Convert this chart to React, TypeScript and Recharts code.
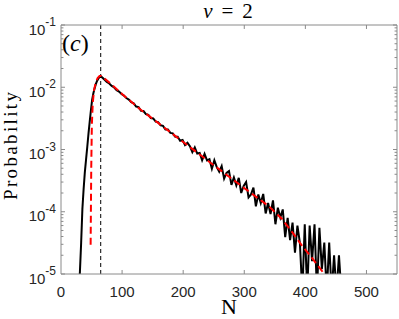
import { ComposedChart, Line, XAxis, YAxis, ReferenceLine } from "recharts";

// histogram of N (black)
const histN = [
  29, 31, 33, 35, 37, 39, 41, 43, 45, 47, 49, 51, 53, 55, 57, 59, 61, 63, 65, 67,
  71, 75, 79, 83, 87, 91, 95, 99, 103, 107, 111, 115, 119, 123, 127, 131, 135, 139,
  143, 147, 151, 155, 159, 163, 167, 171, 175, 179, 183, 187, 191, 195, 199, 203,
  207, 211, 215, 219, 223, 227, 231, 235, 239, 243, 247, 251, 255, 259, 263, 267,
  271, 275, 279, 283, 287, 291, 295, 299, 303, 307, 311, 315, 319, 323, 327, 331,
  335, 339, 343, 347, 351, 355, 359, 363, 367, 371, 375, 379, 383, 387, 391, 395,
  399, 403, 407, 411, 415, 419, 423, 427, 431, 435, 439, 443, 447, 451, 455, 459,
];
const histP = [
  5e-6, 1.1e-5, 3.2e-5, 1.1e-4, 2.3e-4, 4.3e-4, 6.9e-4, 1.1e-3, 1.8e-3, 2.8e-3,
  4.3e-3, 6.3e-3, 8.0e-3, 9.6e-3, 1.12e-2, 1.26e-2, 1.37e-2, 1.45e-2, 1.47e-2, 1.45e-2,
  1.33e-2, 1.22e-2, 1.15e-2, 1.05e-2, 9.9e-3, 9.0e-3, 8.5e-3, 7.8e-3, 7.35e-3, 6.7e-3,
  6.35e-3, 5.75e-3, 5.5e-3, 4.9e-3, 4.8e-3, 4.2e-3, 4.15e-3, 3.7e-3, 3.6e-3, 3.2e-3,
  3.15e-3, 2.8e-3, 2.75e-3, 2.45e-3, 2.4e-3, 2.1e-3, 2.1e-3, 1.85e-3, 1.82e-3, 1.6e-3,
  1.6e-3, 1.38e-3, 1.42e-3, 1.18e-3, 1.28e-3, 1.13e-3, 9.1e-4, 1.08e-3, 8.6e-4, 8.8e-4,
  6.7e-4, 8.5e-4, 6.7e-4, 7.0e-4, 4.9e-4, 6.7e-4, 5.2e-4, 4.4e-4, 5.4e-4, 3.4e-4,
  4.2e-4, 4.5e-4, 2.7e-4, 3.55e-4, 2.65e-4, 3.5e-4, 2.0e-4, 2.6e-4, 3.0e-4, 1.7e-4,
  1.9e-4, 2.45e-4, 1.22e-4, 1.9e-4, 1.38e-4, 1.93e-4, 9.4e-5, 1.38e-4, 9.2e-5, 1.52e-4,
  6.3e-5, 1.16e-4, 8.1e-5, 1.09e-4, 3.9e-5, 8.0e-5, 3.5e-5, 6.7e-5, 2.2e-5, 6.0e-5,
  3.2e-5, 5e-6, 6.3e-5, 5e-6, 6.0e-5, 1.6e-5, 6.3e-5, 5e-6, 5.5e-5, 1.2e-5,
  3.2e-5, 5e-6, 3.2e-5, 5e-6, 2.0e-5, 5e-6, 2.0e-5, 5e-6,
];

// fitted distribution (red dashed)
const fitN = [48.5, 49.5, 50.5, 52, 54, 57, 60, 63, 66, 70, 80, 100, 129, 160, 200, 250, 300, 340, 361, 380, 395, 410, 420, 431, 436];
const fitP = [
  2.95e-5, 5e-4, 2.5e-3, 5.6e-3, 8.9e-3, 1.2e-2, 1.41e-2, 1.51e-2, 1.51e-2, 1.41e-2,
  1.17e-2, 7.8e-3, 4.47e-3, 2.63e-3, 1.32e-3, 5.6e-4, 2.4e-4, 1.23e-4, 7.8e-5, 4.5e-5,
  2.8e-5, 1.86e-5, 1.38e-5, 1e-5, 8.5e-6,
];

const peakN = 65;
const xTicks = [0, 100, 200, 300, 400, 500];
const yTicks = [1e-5, 1e-4, 1e-3, 1e-2, 1e-1];

const histData = histN.map((n, i) => ({ n, p: histP[i] }));
const fitData = fitN.map((n, i) => ({ n, p: fitP[i] }));

const minorTicks: number[] = [];
for (let d = -5; d < -1; d++) {
  for (let m = 2; m <= 9; m++) minorTicks.push(m * Math.pow(10, d));
}

const frame = "#8a8a8a";
const sans = "'Liberation Sans', Arial, sans-serif";
const serif = "'Liberation Serif', 'Times New Roman', serif";

const LogTick = (props: any) => {
  const { x, y, payload } = props;
  const e = Math.round(Math.log10(payload.value));
  return (
    <text x={x} y={y + 9.5} textAnchor="end" fontSize={15} fill="#262626" fontFamily={sans}>
      <tspan>10</tspan>
      <tspan fontSize={12} dy={-8.5}>{e}</tspan>
    </text>
  );
};

export default function App() {
  return (
    <div style={{ position: "absolute", left: 0, top: 0, width: 399, height: 319, background: "#fff" }}>
      <ComposedChart width={399} height={319} data={histData} margin={{ top: 25, right: 2, bottom: 15, left: 0 }}>
        <XAxis
          dataKey="n"
          type="number"
          domain={[0, 550]}
          ticks={xTicks}
          allowDataOverflow
          height={30}
          axisLine={false}
          tickLine={false}
          tickSize={0}
          tickMargin={12}
          tick={{ fontSize: 15, fill: "#262626", fontFamily: sans }}
        />
        <YAxis
          scale="log"
          domain={[1e-5, 1e-1]}
          ticks={yTicks}
          allowDataOverflow
          width={61}
          axisLine={false}
          tickLine={false}
          tickSize={0}
          tickMargin={5}
          tick={<LogTick />}
        />
        <ReferenceLine x={peakN} stroke="#000" strokeDasharray="4 3" strokeWidth={1} />
        <Line data={histData} dataKey="p" type="linear" stroke="#000" strokeWidth={2} dot={false} isAnimationActive={false} />
        <Line data={fitData} dataKey="p" type="linear" stroke="#ff0000" strokeWidth={2} strokeDasharray="7 4" dot={false} isAnimationActive={false} />

        {/* box */}
        <ReferenceLine x={0} stroke={frame} />
        <ReferenceLine x={550} stroke={frame} />
        <ReferenceLine y={1e-5} stroke={frame} />
        <ReferenceLine y={1e-1} stroke={frame} />
        {xTicks.slice(1).map((t) => (
          <ReferenceLine key={"xb" + t} segment={[{ x: t, y: 1e-5 }, { x: t, y: 1.16e-5 }]} stroke={frame} />
        ))}
        {xTicks.slice(1).map((t) => (
          <ReferenceLine key={"xt" + t} segment={[{ x: t, y: 1e-1 }, { x: t, y: 0.0863 }]} stroke={frame} />
        ))}
        {yTicks.map((t) => (
          <ReferenceLine key={"yl" + t} segment={[{ x: 0, y: t }, { x: 6.5, y: t }]} stroke={frame} />
        ))}
        {yTicks.map((t) => (
          <ReferenceLine key={"yr" + t} segment={[{ x: 550, y: t }, { x: 543.5, y: t }]} stroke={frame} />
        ))}
        {minorTicks.map((t) => (
          <ReferenceLine key={"ml" + t} segment={[{ x: 0, y: t }, { x: 4, y: t }]} stroke={frame} />
        ))}
        {minorTicks.map((t) => (
          <ReferenceLine key={"mr" + t} segment={[{ x: 550, y: t }, { x: 546, y: t }]} stroke={frame} />
        ))}
      </ComposedChart>

      <svg width={399} height={319} style={{ position: "absolute", left: 0, top: 0, pointerEvents: "none" }}>
        <text x={228} y={18} textAnchor="middle" fontSize={21} fontFamily={serif} fill="#000">
          <tspan fontStyle="italic">ν</tspan>
          <tspan dx={9}>=</tspan>
          <tspan dx={9}>2</tspan>
        </text>
        <text x={62} y={51} fontSize={24} fontFamily={serif} fill="#000">
          (<tspan fontStyle="italic">c</tspan>)
        </text>
        <text
          transform="translate(17,146) rotate(-90)"
          textAnchor="middle"
          fontSize={19}
          fontFamily={serif}
          fill="#000"
          textLength={108}
          lengthAdjust="spacing"
        >
          Probability
        </text>
        <text x={229} y={314} textAnchor="middle" fontSize={22} fontFamily={serif} fill="#000">
          N
        </text>
      </svg>
    </div>
  );
}
